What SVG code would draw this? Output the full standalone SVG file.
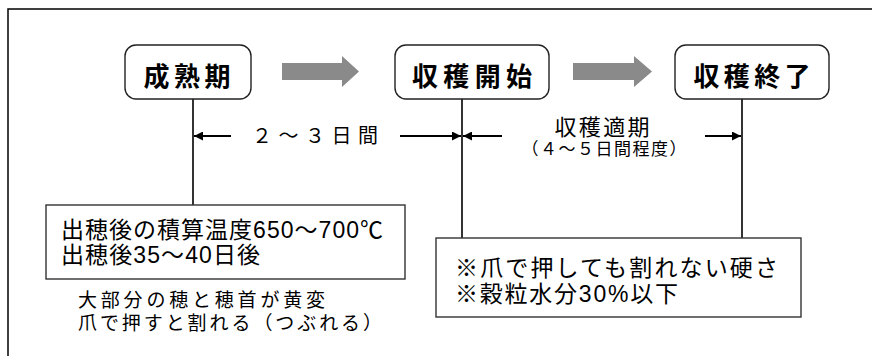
<svg xmlns="http://www.w3.org/2000/svg" width="872" height="356" viewBox="0 0 872 356">
  <defs>
    <style>
      .frame { fill: none; stroke: #000; stroke-width: 1.5; }
      .stage { fill: #fff; stroke: #222; stroke-width: 1.4; }
      .note { fill: #fff; stroke: #333; stroke-width: 1.4; }
      .ttl { font-family: "Noto Sans CJK JP", "Liberation Sans", sans-serif; font-weight: 700; font-size: 26px; fill: #000; text-anchor: middle; dominant-baseline: central; }
      .txt { font-family: "Liberation Sans", "Noto Sans CJK JP", sans-serif; font-size: 22px; fill: #000; dominant-baseline: central; }
      .mid { text-anchor: middle; }
      .vline { stroke: #000; stroke-width: 1.6; fill: none; }
      .arr { stroke: #000; stroke-width: 2; fill: none; marker-end: url(#ah); }
      .big { fill: #8a8a8a; }
    </style>
    <marker id="ah" viewBox="0 0 10 10" refX="10" refY="5" markerWidth="5.5" markerHeight="4.5" markerUnits="strokeWidth" orient="auto">
      <path d="M0,0 L10,5 L0,10 z" fill="#000"/>
    </marker>
  </defs>

  <rect x="8" y="9" width="900" height="400" class="frame"/>

  <g id="connectors">
    <line class="vline" x1="193" y1="99" x2="193" y2="205"/>
    <line class="vline" x1="462" y1="99" x2="462" y2="238"/>
    <line class="vline" x1="742" y1="99" x2="742" y2="238"/>
    <line class="arr" x1="231" y1="136" x2="194" y2="136"/>
    <line class="arr" x1="400" y1="136" x2="461" y2="136"/>
    <line class="arr" x1="502" y1="136" x2="463" y2="136"/>
    <line class="arr" x1="705" y1="136" x2="741" y2="136"/>
    <polygon class="big" points="282,63 342,63 342,56 359,71.5 342,87 342,80 282,80"/>
    <polygon class="big" points="573,63 634,63 634,56 652,71.5 634,87 634,80 573,80"/>
  </g>

  <g id="node-seijukuki">
    <rect class="stage" x="125" y="45" width="126" height="54" rx="11" ry="11"/>
    <text class="ttl" x="187" y="74" textLength="87" lengthAdjust="spacing">成熟期</text>
  </g>

  <g id="node-shukaku-kaishi">
    <rect class="stage" x="395" y="45" width="154" height="54" rx="11" ry="11"/>
    <text class="ttl" x="472" y="74" textLength="120" lengthAdjust="spacing">収穫開始</text>
  </g>

  <g id="node-shukaku-shuryo">
    <rect class="stage" x="675" y="45" width="154" height="54" rx="11" ry="11"/>
    <text class="ttl" x="752" y="74" textLength="117" lengthAdjust="spacing">収穫終了</text>
  </g>

  <g id="label-2-3days">
    <text class="txt mid" x="315" y="136" style="font-size:20px" textLength="126" lengthAdjust="spacing">２～３日間</text>
  </g>

  <g id="label-tekiki">
    <text class="txt mid" x="602" y="127" style="font-size:22px" textLength="95" lengthAdjust="spacing">収穫適期</text>
    <text class="txt mid" x="604" y="149" style="font-size:17px" textLength="165" lengthAdjust="spacing">（４～５日間程度）</text>
  </g>

  <g id="note-seijuku">
    <rect class="note" x="46" y="205" width="359" height="74"/>
    <text class="txt" x="61" y="230" style="font-size:23px" textLength="322" lengthAdjust="spacing">出穂後の積算温度650～700℃</text>
    <text class="txt" x="61" y="255" style="font-size:23px" textLength="199" lengthAdjust="spacing">出穂後35～40日後</text>
  </g>

  <g id="note-seijuku-sub">
    <text class="txt" x="78" y="300" style="font-size:19px" textLength="247" lengthAdjust="spacing">大部分の穂と穂首が黄変</text>
    <text class="txt" x="78" y="323" style="font-size:19px" textLength="304" lengthAdjust="spacing">爪で押すと割れる（つぶれる）</text>
  </g>

  <g id="note-tekiki">
    <rect class="note" x="436" y="238" width="365" height="79"/>
    <text class="txt" x="455" y="268" style="font-size:23px" textLength="323" lengthAdjust="spacing">※爪で押しても割れない硬さ</text>
    <text class="txt" x="455" y="294" style="font-size:23px" textLength="223" lengthAdjust="spacing">※穀粒水分30%以下</text>
  </g>
</svg>
